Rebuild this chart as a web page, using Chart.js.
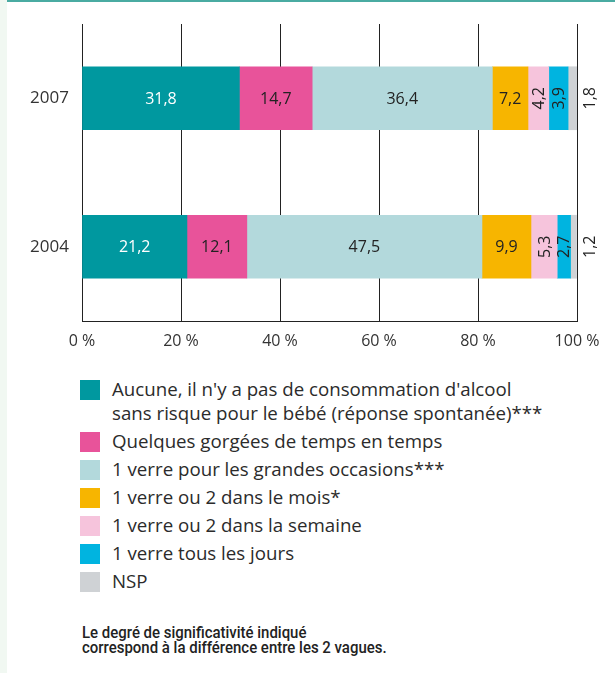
<!DOCTYPE html>
<html lang="fr">
<head>
<meta charset="utf-8">
<script src="https://cdn.jsdelivr.net/npm/chart.js@4"></script>
<style>
  html, body { margin: 0; padding: 0; background: #fff; }
  body { width: 615px; height: 673px; position: relative; overflow: hidden; font-family: 'Open Sans', sans-serif; }
  .strip { position: absolute; left: 0; top: 0; width: 7px; height: 673px; background: #f1f8f2; }
  .topline { position: absolute; left: 7px; top: 0; right: 0; height: 1.5px; background: #4aaba2; }
  .chartbox { position: absolute; left: 0; top: 0; width: 615px; height: 360px; }
  #legend { position: absolute; left: 80px; top: 377px; margin: 0; padding: 0; list-style: none; }
  #legend li { position: relative; padding-left: 32px; font-size: 18.7px; line-height: 24px; color: #2b2b2b; margin-bottom: 4px; white-space: nowrap; }
  #legend li span { position: absolute; left: 0; top: 3px; width: 20px; height: 20px; }
  .note { position: absolute; left: 82px; top: 625px; font-family: Roboto, sans-serif; white-space: nowrap;
          font-weight: 500; font-size: 17px; line-height: 15px; color: #222; transform: scaleX(0.88); transform-origin: 0 0; }
</style>
</head>
<body>
<div class="strip"></div>
<div class="topline"></div>
<div class="chartbox"><canvas id="chart"></canvas></div>
<ul id="legend"></ul>
<div class="note">Le degré de significativité indiqué<br>correspond à la différence entre les 2 vagues.</div>
<script>
'use strict';

const YEARS = ['2007', '2004'];
const SERIES = [
  'Aucune, il n\'y a pas de consommation d\'alcool\nsans risque pour le bébé (réponse spontanée)***',
  'Quelques gorgées de temps en temps',
  '1 verre pour les grandes occasions***',
  '1 verre ou 2 dans le mois*',
  '1 verre ou 2 dans la semaine',
  '1 verre tous les jours',
  'NSP',
];
const VALUES = [
  [31.8, 21.2],
  [14.7, 12.1],
  [36.4, 47.5],
  [7.2, 9.9],
  [4.2, 5.3],
  [3.9, 2.7],
  [1.8, 1.2],
];
const COLORS = ['#00989f', '#e8539a', '#b3d9dc', '#f7b500', '#f6c4dc', '#00b4e0', '#cfd2d5'];
const X_TICKS = [0, 20, 40, 60, 80, 100];

function fmt(v) { return v.toFixed(1).replace('.', ','); }

// étiquettes de valeurs dans les barres
const valueLabels = {
  id: 'valueLabels',
  afterDatasetsDraw(chart) {
    const ctx = chart.ctx;
    const last = chart.data.datasets.length - 1;
    ctx.save();
    ctx.font = '16px "Open Sans", sans-serif';
    ctx.textAlign = 'center';
    ctx.textBaseline = 'middle';
    chart.data.datasets.forEach((ds, i) => {
      chart.getDatasetMeta(i).data.forEach((bar, j) => {
        const v = ds.data[j];
        let cx = (bar.x + bar.base) / 2;
        const cy = bar.y;
        ctx.fillStyle = i === 0 ? '#fff' : '#222';
        if (i === last) cx = chart.chartArea.right + 12;
        if (v > 6 && i !== last) {
          ctx.fillText(fmt(v), cx, cy + 1);
        } else {
          ctx.save();
          ctx.translate(cx + 1, cy);
          ctx.rotate(-Math.PI / 2);
          ctx.fillText(fmt(v), 0, 0);
          ctx.restore();
        }
      });
    });
    ctx.restore();
  },
};

const datasets = SERIES.map((name, i) => ({
  label: name,
  data: VALUES[i],
  backgroundColor: COLORS[i],
  borderWidth: 0,
  barThickness: 63,
}));

new Chart(document.getElementById('chart'), {
  type: 'bar',
  data: { labels: YEARS, datasets },
  options: {
    indexAxis: 'y',
    responsive: true,
    maintainAspectRatio: false,
    animation: false,
    layout: { padding: { left: 0, top: 24, right: 38, bottom: 0 } },
    scales: {
      x: {
        stacked: true, min: 0, max: 100,
        afterBuildTicks: (s) => { s.ticks = X_TICKS.map((v) => ({ value: v })); },
        afterFit: (s) => { s.height = 39; },
        grid: { color: '#222', lineWidth: 1, drawTicks: false },
        border: { display: true, color: '#222', width: 1 },
        ticks: { color: '#333', padding: 11, font: { family: 'Open Sans', size: 16 }, callback: (v) => v + ' %' },
      },
      y: {
        stacked: true,
        afterFit: (s) => { s.width = 82; },
        grid: { display: false, drawTicks: false },
        border: { display: false },
        ticks: { color: '#333', padding: 13, font: { family: 'Open Sans', size: 17 } },
      },
    },
    plugins: { legend: { display: false }, tooltip: { enabled: false } },
  },
  plugins: [valueLabels],
});

// légende
const ul = document.getElementById('legend');
SERIES.forEach((name, i) => {
  const li = document.createElement('li');
  const sw = document.createElement('span');
  sw.style.background = COLORS[i];
  li.appendChild(sw);
  name.split('\n').forEach((line, k) => {
    if (k) li.appendChild(document.createElement('br'));
    li.appendChild(document.createTextNode(line));
  });
  ul.appendChild(li);
});
</script>
</body>
</html>
